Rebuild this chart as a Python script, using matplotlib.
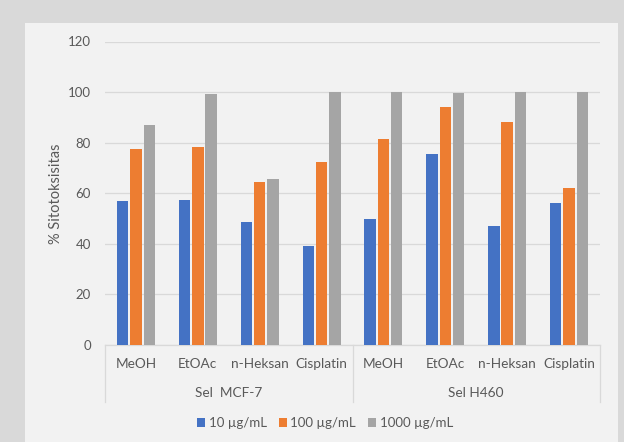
import numpy as np
import matplotlib
matplotlib.use("Agg")
import matplotlib.pyplot as plt
from matplotlib.patches import Rectangle

# data
groups = ["Sel  MCF-7", "Sel H460"]
extracts = ["MeOH", "EtOAc", "n-Heksan", "Cisplatin"]
series_names = ["10 µg/mL", "100 µg/mL", "1000 µg/mL"]
conc_10 = [57, 57.5, 48.5, 39, 50, 75.5, 47, 56]
conc_100 = [77.5, 78.3, 64.3, 72.2, 81.5, 94, 88, 62]
conc_1000 = [87.1, 99.4, 65.5, 100, 100, 99.6, 100, 100]
y_ticks = [0, 20, 40, 60, 80, 100, 120]

colors = ["#4472C4", "#ED7D31", "#A5A5A5"]
text_color = "#595959"
grid_color = "#d9d9d9"

plt.rcParams["font.family"] = ["Lato", "DejaVu Sans"]

W, H = 624, 442
fig = plt.figure(figsize=(W / 100, H / 100), dpi=100)
fig.patch.set_facecolor("#d9d9d9")
fig.patches.append(Rectangle((25 / W, 0), (618 - 25) / W, (H - 23) / H,
                             transform=fig.transFigure, facecolor="#f2f2f2",
                             edgecolor="none", zorder=-10))

ax_left, ax_right, ax_top, ax_bottom = 105, 600, 41.5, 345
ax = fig.add_axes([ax_left / W, (H - ax_bottom) / H,
                   (ax_right - ax_left) / W, (ax_bottom - ax_top) / H])
ax.set_facecolor("none")

labels = extracts * len(groups)
x = np.arange(len(labels))
width = 0.185
step = 0.215
for i, (vals, c, name) in enumerate(zip([conc_10, conc_100, conc_1000], colors, series_names)):
    ax.bar(x + (i - 1) * step, vals, width, color=c, label=name, zorder=3)

ax.set_xlim(-0.5, len(labels) - 0.5)
ax.set_ylim(0, 120)
ax.set_yticks(y_ticks)
ax.tick_params(axis="y", length=0, labelsize=9.5, labelcolor=text_color, pad=10)
ax.set_xticks([])
ax.grid(axis="y", color=grid_color, linewidth=0.9, zorder=0)
for s in ["top", "right", "left"]:
    ax.spines[s].set_visible(False)
ax.spines["bottom"].set_color(grid_color)
ax.spines["bottom"].set_linewidth(0.9)

ax.set_ylabel("% Sitotoksisitas", fontsize=10.5, color=text_color, labelpad=4)

# two-level category axis below the plot
trans = ax.get_xaxis_transform()
ah = ax_bottom - ax_top
for xi, lab in zip(x, labels):
    ax.text(xi, -19 / ah, lab, transform=trans, ha="center", va="center",
            fontsize=9.8, color=text_color)
n = len(extracts)
for g, name in enumerate(groups):
    ax.text(g * n + (n - 1) / 2, -48 / ah, name, transform=trans, ha="center",
            va="center", fontsize=9.8, color=text_color)
for xs in [-0.5, n - 0.5, 2 * n - 0.5]:
    ax.plot([xs, xs], [0, -57 / ah], transform=trans, color=grid_color,
            linewidth=0.9, clip_on=False)

handles, names = ax.get_legend_handles_labels()
leg = fig.legend(handles, names, loc="center", bbox_to_anchor=(325 / W, 19 / H),
                 ncol=3, frameon=False, fontsize=9.5, handlelength=0.6,
                 handleheight=0.6, handletextpad=0.3, columnspacing=0.9)
for t in leg.get_texts():
    t.set_color(text_color)

fig.savefig("out.png", dpi=100, facecolor=fig.get_facecolor())
